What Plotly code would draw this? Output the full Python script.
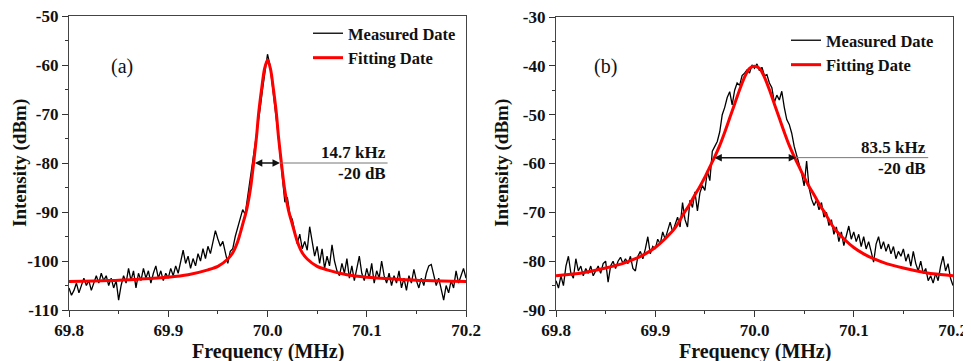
import plotly.graph_objects as go

# ---------------- data ----------------
freq = [round(69.8 + 0.0025 * i, 4) for i in range(161)]

meas_a = [
    -105.5, -107, -106, -104.5, -106.5, -105, -103.5, -105, -104, -106,
    -104.5, -103, -104.5, -102.5, -104, -103, -105, -103.5, -105.5, -104,
    -108, -105, -103, -104.5, -101.5, -104, -102, -105.5, -102.5, -104,
    -101.5, -103.5, -102, -104.5, -102.5, -101, -103.5, -102, -104, -102.5,
    -103.5, -101.5, -103, -101, -102.5, -100, -97.8, -100.5, -99, -101.5,
    -99.5, -101, -98.5, -100, -97.5, -99.5, -97, -98.5, -96, -93.8,
    -95.5, -97, -96, -98.5, -100.5, -98, -97.5, -95, -93, -91,
    -89.5, -90.5, -87, -84, -80, -77, -73, -69, -65, -61,
    -57.8, -60, -64, -68, -73, -78, -83.5, -88, -87, -90.5,
    -91.5, -94, -96.5, -94.5, -97.5, -96, -97.8, -93, -96.5, -99,
    -97, -100.5, -97.5, -101.5, -99, -101, -96.7, -100, -102, -103,
    -100.5, -102.5, -99.5, -103.5, -101, -104, -101.5, -99, -102.5, -104,
    -101.5, -103.5, -100.5, -104.5, -102, -103.5, -100, -103, -104.5, -102.5,
    -105, -103, -104.5, -102, -105.5, -103.5, -106, -103, -104.5, -101.7,
    -104, -105.5, -103.5, -105, -102.5, -101, -100.7, -103, -105, -103.5,
    -106, -108, -105, -106.5, -104, -105.5, -102, -104.5, -103, -101.5,
    -103.5,
]

meas_b = [
    -84, -85.5, -83, -85, -81, -79, -82.5, -83.5, -79.5, -82,
    -81, -83, -81.5, -82.5, -81, -83, -82, -81, -82.5, -80.5,
    -80, -84.3, -81, -80, -81.5, -80, -79.2, -80.5, -79.5, -80.5,
    -79, -81.5, -82, -79, -78, -79.5, -77.5, -75, -78.5, -77,
    -77.5, -75.5, -76.5, -74, -75.5, -73.5, -72, -74, -72.5, -71,
    -73, -68, -71.5, -73, -67.5, -69, -65.8, -69.7, -66, -64.5,
    -65.5, -61.5, -63.5, -57.5, -56.5, -55.5, -53.5, -50, -48.5, -46.5,
    -45.3, -48, -45, -43.5, -44, -42, -41.5, -40.8, -41.5, -39.8,
    -40.5, -39.6, -41, -40.3, -42, -41.8, -43.5, -44.5, -47.5, -46,
    -47, -45.2, -48.5, -51, -52, -53.8, -56.5, -58.3, -60.5, -62,
    -64.6, -59.5, -65, -67.3, -68.6, -67.5, -69.5, -68, -71, -70,
    -72.7, -71.5, -74.5, -73, -76, -74, -76.8, -75, -72.8, -75.5,
    -74, -76, -74.5, -77, -75, -77.5, -76, -78, -80.2, -76.5,
    -75, -77.5, -76, -78, -76.5, -78.5, -77, -79.5, -78, -79,
    -77.5, -80, -78.5, -81, -78, -80.5, -82, -80, -82.5, -81.5,
    -84, -83, -84.5, -82.5, -84, -81, -79, -82, -80.5, -83.5,
    -85,
]

fit_a_x = [69.80, 69.84, 69.87, 69.90, 69.92, 69.94, 69.95, 69.96, 69.965, 69.97,
           69.975, 69.979, 69.983, 69.986, 69.989, 69.991, 69.994, 69.997, 70.000,
           70.003, 70.006, 70.009, 70.011, 70.014, 70.017, 70.021, 70.025, 70.03,
           70.035, 70.04, 70.05, 70.06, 70.08, 70.10, 70.13, 70.16, 70.20]
fit_a_y = [-104.2, -104.0, -103.7, -103.3, -102.8, -101.8, -101.1, -99.6, -98.3, -96.0,
           -92.5, -89.5, -85.0, -80.0, -74.5, -70.0, -65.0, -60.8, -59.0,
           -60.8, -65.0, -70.0, -74.5, -80.0, -85.0, -89.5, -92.5, -96.0,
           -98.3, -99.6, -101.1, -101.8, -102.8, -103.3, -103.7, -104.0, -104.2]

fit_b_x = [69.800, 69.820, 69.834, 69.850, 69.867, 69.880, 69.890, 69.900, 69.910, 69.920,
           69.930, 69.934, 69.940, 69.945, 69.950, 69.955, 69.960, 69.965, 69.970,
           69.975, 69.980, 69.985, 69.990, 69.995, 70.000, 70.005, 70.010, 70.015,
           70.020, 70.025, 70.030, 70.035, 70.040, 70.045, 70.050, 70.055, 70.060,
           70.066, 70.070, 70.080, 70.090, 70.100, 70.110, 70.120, 70.133, 70.150,
           70.166, 70.180, 70.200]
fit_b_y = [-83.0, -82.6, -82.1, -81.4, -80.5, -79.5, -78.5, -77.2, -75.4, -73.2,
           -69.8, -68.6, -66.4, -64.7, -62.8, -60.7, -58.6, -56.3, -53.6,
           -50.7, -47.8, -44.9, -42.3, -40.5, -40.1, -40.5, -42.3, -44.9,
           -47.8, -50.7, -53.6, -56.3, -58.6, -60.7, -62.8, -64.7, -66.4,
           -68.6, -69.8, -73.2, -75.4, -77.2, -78.5, -79.5, -80.5, -81.4,
           -82.1, -82.6, -83.0]

x_ticks = [69.8, 69.9, 70.0, 70.1, 70.2]
x_ticktext = ["69.8", "69.9", "70.0", "70.1", "70.2"]
ya_ticks = [-110, -100, -90, -80, -70, -60, -50]
ya_ticktext = ["-110", "-100", "-90", "-80", "-70", "-60", "-50"]
yb_ticks = [-90, -80, -70, -60, -50, -40, -30]
yb_ticktext = ["-90", "-80", "-70", "-60", "-50", "-40", "-30"]

# width markers: (left, right, level, line end, label)
mark_a = (69.9857, 70.0126, -80.0, 70.121, "14.7 kHz")
mark_b = (69.958, 70.042, -58.8, 70.175, "83.5 kHz")

# ---------------- figure ----------------
FONT = "Liberation Serif"
fig = go.Figure()

fig.add_trace(go.Scatter(x=freq, y=meas_a, mode="lines", name="Measured Date",
                         line=dict(color="black", width=1.3), xaxis="x", yaxis="y",
                         legend="legend"))
fig.add_trace(go.Scatter(x=fit_a_x, y=fit_a_y, mode="lines", name="Fitting Date",
                         line=dict(color="#ff0000", width=3, shape="spline", smoothing=0.8),
                         xaxis="x", yaxis="y", legend="legend"))
fig.add_trace(go.Scatter(x=freq, y=meas_b, mode="lines", name="Measured Date",
                         line=dict(color="black", width=1.3), xaxis="x2", yaxis="y2",
                         legend="legend2"))
fig.add_trace(go.Scatter(x=fit_b_x, y=fit_b_y, mode="lines", name="Fitting Date",
                         line=dict(color="#ff0000", width=3, shape="spline", smoothing=0.8),
                         xaxis="x2", yaxis="y2", legend="legend2"))

# page has an 8px body margin: figure coordinates = page coordinates - 8
W, H = 963, 353
def px(x):
    return x / W
def py(y):
    return 1 - y / H

def xaxis(domain, anchor):
    return dict(domain=domain, anchor=anchor, range=[69.8, 70.2], automargin=False,
                tickvals=x_ticks, ticktext=x_ticktext, ticklabeloverflow="allow",
                ticklabelstandoff=-2,
                ticks="outside", ticklen=6, tickwidth=1.3, tickcolor="#333",
                minor=dict(dtick=0.05, tick0=69.8, ticks="outside", ticklen=3,
                           tickwidth=1.2, tickcolor="#333"),
                showline=True, linecolor="#444", linewidth=1.4, mirror=True,
                showgrid=False, zeroline=False,
                tickfont=dict(family=FONT, size=17, color="#111", weight="bold"))

def yaxis(domain, anchor, rng, tv, tt):
    return dict(domain=domain, anchor=anchor, range=rng, automargin=False,
                tickvals=tv, ticktext=tt, ticklabeloverflow="allow",
                ticks="outside", ticklen=6, tickwidth=1.3, tickcolor="#333",
                minor=dict(dtick=5, tick0=rng[0], ticks="outside", ticklen=3,
                           tickwidth=1.2, tickcolor="#333"),
                showline=True, linecolor="#444", linewidth=1.4, mirror=True,
                showgrid=False, zeroline=False,
                tickfont=dict(family=FONT, size=17, color="#111", weight="bold"))

legend_style = dict(font=dict(family=FONT, size=16.5, color="#111", weight="bold"),
                    bgcolor="rgba(0,0,0,0)", borderwidth=0, tracegroupgap=0,
                    xanchor="left", yanchor="top", itemwidth=30)

annotations = []
shapes = []
for (l, r, lvl, lend, lab), xr, yr in [(mark_a, "x", "y"), (mark_b, "x2", "y2")]:
    annotations.append(dict(x=r, y=lvl, ax=l, ay=lvl, xref=xr, yref=yr, axref=xr, ayref=yr,
                            text="", showarrow=True, arrowhead=2, arrowside="end+start",
                            arrowsize=1, arrowwidth=1.5, arrowcolor="#111"))
    shapes.append(dict(type="line", x0=r, x1=lend, y0=lvl, y1=lvl, xref=xr, yref=yr,
                       line=dict(color="#777", width=1)))
    annotations.append(dict(x=lend, y=lvl, xref=xr, yref=yr, text="<b>" + lab + "</b>",
                            showarrow=False, xanchor="right", yanchor="bottom", yshift=-1,
                            font=dict(family=FONT, size=17, color="#111")))
    annotations.append(dict(x=lend, y=lvl, xref=xr, yref=yr, text="<b>-20 dB</b>",
                            showarrow=False, xanchor="right", yanchor="top", yshift=1,
                            font=dict(family=FONT, size=17, color="#111")))

# panel labels
annotations.append(dict(x=px(114), y=py(59), xref="paper", yref="paper", text="(a)",
                        showarrow=False, xanchor="center", yanchor="middle",
                        font=dict(family=FONT, size=20, color="#111")))
annotations.append(dict(x=px(597), y=py(59), xref="paper", yref="paper", text="(b)",
                        showarrow=False, xanchor="center", yanchor="middle",
                        font=dict(family=FONT, size=20, color="#111")))
# axis titles
for cx in (px(259.5), px(746.5)):
    annotations.append(dict(x=cx, y=py(343), xref="paper", yref="paper",
                            text="<b>Frequency (MHz)</b>", showarrow=False,
                            xanchor="center", yanchor="middle",
                            font=dict(family=FONT, size=20, color="#111")))
for cx in (px(12), px(494)):
    annotations.append(dict(x=cx, y=py(155), xref="paper", yref="paper",
                            text="<b>Intensity (dBm)</b>", showarrow=False, textangle=-90,
                            xanchor="center", yanchor="middle",
                            font=dict(family=FONT, size=19, color="#111")))

fig.update_layout(
    width=W, height=H, margin=dict(l=0, r=0, t=0, b=0),
    paper_bgcolor="white", plot_bgcolor="white",
    xaxis=xaxis([px(61), px(458)], "y"),
    yaxis=yaxis([py(302), py(8)], "x", [-110, -50], ya_ticks, ya_ticktext),
    xaxis2=xaxis([px(548), px(945)], "y2"),
    yaxis2=yaxis([py(302), py(9)], "x2", [-90, -30], yb_ticks, yb_ticktext),
    legend=dict(x=px(300), y=py(8), **legend_style),
    legend2=dict(x=px(778), y=py(15), **legend_style),
    annotations=annotations, shapes=shapes,
    showlegend=True,
)

fig.write_html("out.html")
